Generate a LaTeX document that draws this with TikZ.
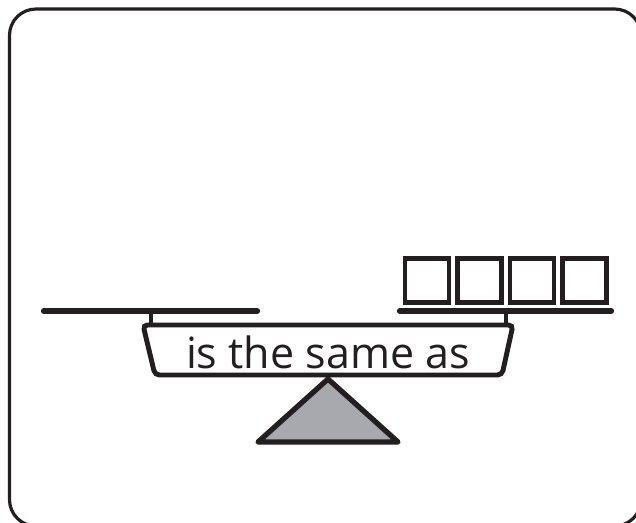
\documentclass[tikz,border=0pt]{standalone}
\usepackage{fontspec}
\setmainfont{Open Sans}
\usepackage{xcolor}
\usetikzlibrary{positioning}
\definecolor{ink}{HTML}{231F20}
\definecolor{pivotgray}{HTML}{A7A9AC}
\tikzset{
  frame/.style={draw=ink, line width=1.8pt, rounded corners=15pt},
  bar/.style={draw=ink, line width=3.6pt, line cap=round},
  post/.style={draw=ink, line width=2pt},
  beam/.style={draw=ink, line width=2.8pt, rounded corners=2.5pt, fill=white},
  pivot/.style={draw=ink, line width=3pt, line join=round, fill=pivotgray},
  cube/.style={draw=ink, line width=2.6pt, minimum size=8.8mm, inner sep=0pt},
  phrase/.style={font=\fontsize{24.5}{28}\selectfont, text=ink, inner sep=0pt},
}
\begin{document}
\begin{tikzpicture}[x=0.02cm, y=-0.02cm]
  \useasboundingbox (0,0) rectangle (636,522);
  \draw[frame] (9.5,9) rectangle (641,526);
  \coordinate (lpost) at (151,311);
  \coordinate (rpost) at (506,311);
  \draw[bar] (44,311) -- (257,311);
  \draw[bar] (400,311) -- (611,311);
  \draw[post] (lpost) -- ++(0,14);
  \draw[post] (rpost) -- ++(0,14);
  \draw[beam] (143,325) -- (513,325) -- (502,375) -- (155,375) -- cycle;
  \node[phrase, anchor=base] (label) at (328,368) {is the same as};
  \draw[pivot] (328,379) -- (398,442) -- (258,442) -- cycle;
  \node[cube] (sq1) at (427,280.5) {};
  \node[cube, right=0.8mm of sq1] (sq2) {};
  \node[cube, right=0.8mm of sq2] (sq3) {};
  \node[cube, right=0.8mm of sq3] (sq4) {};
\end{tikzpicture}
\end{document}
